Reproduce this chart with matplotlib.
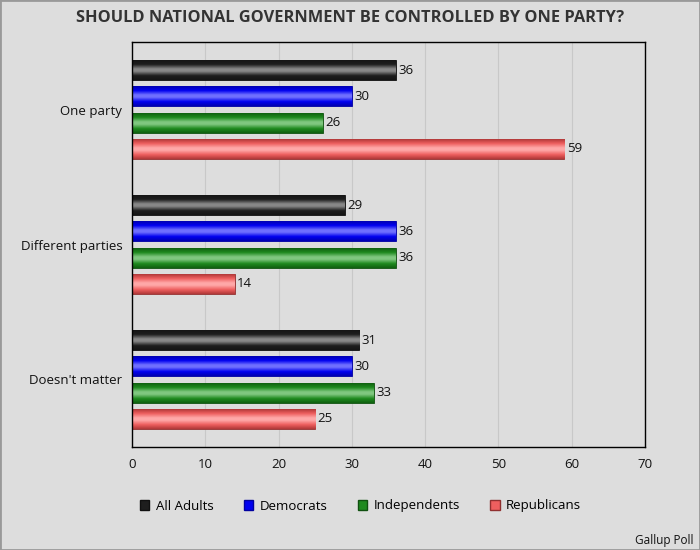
import numpy as np
import matplotlib
matplotlib.use("Agg")
import matplotlib.pyplot as plt
from matplotlib.colors import LinearSegmentedColormap
from matplotlib.patches import Patch

plt.rcParams['font.family'] = ['Open Sans', 'DejaVu Sans']

categories = ["One party", "Different parties", "Doesn't matter"]
series = ["All Adults", "Democrats", "Independents", "Republicans"]
all_adults = [36, 29, 31]
democrats = [30, 36, 30]
independents = [26, 36, 33]
republicans = [59, 14, 25]
values = [all_adults, democrats, independents, republicans]

# edge, base, highlight for the glossy look
shades = [
    ("#141414", "#1e1e1e", "#888888"),
    ("#0000b0", "#0000f0", "#7070ff"),
    ("#106010", "#1f8a1f", "#80c880"),
    ("#b03838", "#ee5f5f", "#ffa8a8"),
]
outline = ["#101010", "#0000a0", "#105010", "#903030"]

bg = "#dddddd"
fig = plt.figure(figsize=(7, 5.5), dpi=100, facecolor=bg)
ax = fig.add_axes([0.1886, 0.1873, 0.7328, 0.7363])
ax.set_facecolor(bg)

y = np.arange(len(categories))
step = 0.193
height = 0.148
grad = np.linspace(0, 1, 128).reshape(-1, 1)

for i, (name, vals) in enumerate(zip(series, values)):
    edge, base, hi = shades[i]
    cmap = LinearSegmentedColormap.from_list(
        name, [(0, edge), (0.22, base), (0.44, hi), (0.56, hi), (0.78, base), (1, edge)])
    bars = ax.barh(y + (i - 1.5) * step, vals, height=height, color=base,
                   edgecolor=outline[i], linewidth=0.6, zorder=2)
    for b, v in zip(bars, vals):
        x0, y0 = b.get_x(), b.get_y()
        im = ax.imshow(grad, cmap=cmap, aspect='auto', interpolation='bilinear',
                       extent=(x0, x0 + b.get_width(), y0 + b.get_height(), y0), zorder=2.5)
        im.set_clip_path(b)
        ax.text(v + 0.35, b.get_y() + b.get_height() / 2, str(v), va='center', ha='left',
                fontsize=9.5, color='#111111', zorder=3)

ax.set_xlim(0, 70)
ax.set_ylim(len(categories) - 0.5, -0.5)
ax.set_xticks(range(0, 71, 10))
ax.set_yticks(y)
ax.set_yticklabels(categories)
ax.tick_params(length=0, labelsize=9.5, colors='#111111', pad=8)
ax.tick_params(axis='y', pad=7)
ax.grid(axis='x', color='#c8c8c8', linewidth=0.8, zorder=0)
ax.set_axisbelow(True)
for s in ax.spines.values():
    s.set_color('black')
    s.set_linewidth(1)

fig.text(0.5, 0.967, "SHOULD NATIONAL GOVERNMENT BE CONTROLLED BY ONE PARTY?",
         ha='center', va='center', fontsize=11.8, fontweight='bold', color='#333333')

handles = [Patch(facecolor=shades[i][1], edgecolor=outline[i], label=series[i]) for i in range(4)]
fig.legend(handles=handles, loc='center', bbox_to_anchor=(0.515, 0.08), ncol=4,
           frameon=False, fontsize=9.5, handlelength=0.7, handleheight=0.7,
           handletextpad=0.5, columnspacing=2.3)

fig.text(0.991, 0.018, "Gallup Poll", ha='right', va='center', fontsize=8.5, color='#111111')

border = plt.Rectangle((0, 0), 1, 1, transform=fig.transFigure, fill=False,
                       edgecolor='#999999', linewidth=2)
fig.patches.append(border)

fig.savefig("out.png", dpi=100, facecolor=bg)
